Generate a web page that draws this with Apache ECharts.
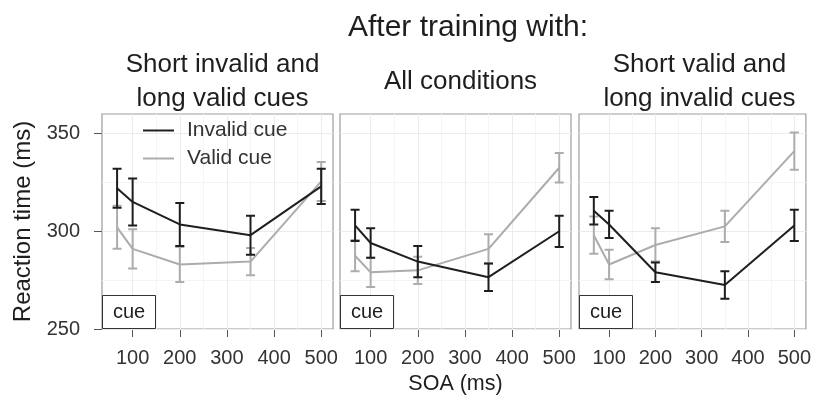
<!DOCTYPE html>
<html>
<head>
<meta charset="utf-8">
<script src="https://cdn.jsdelivr.net/npm/echarts@6/dist/echarts.min.js"></script>
<style>
  html, body { margin: 0; padding: 0; background: #fff; }
  #chart { width: 814px; height: 400px; }
</style>
</head>
<body>
<div id="chart"></div>
<script>
// SOA values (ms) shared by all panels
const soa = [67, 100, 200, 350, 500]

const panelTitles = ['Short invalid and\nlong valid cues', 'All conditions', 'Short valid and\nlong invalid cues']

// mean reaction times and half-width of the error bars, per panel
const invalid1 = [322, 315, 303.5, 298, 323]
const invalidErr1 = [10, 12, 11, 10, 9]
const valid1 = [302, 291, 283, 284.5, 325.5]
const validErr1 = [11, 10, 9, 7, 10]

const invalid2 = [303, 294, 284.5, 276.5, 300]
const invalidErr2 = [8, 7.5, 8, 7, 8]
const valid2 = [287.5, 279, 280, 291, 332.5]
const validErr2 = [8, 7.5, 7, 7.5, 7.5]

const invalid3 = [310.5, 303.5, 279, 272.5, 303]
const invalidErr3 = [7, 7, 5, 7, 8]
const valid3 = [298, 283, 293, 302.5, 341]
const validErr3 = [9.5, 7.5, 8.5, 8, 9.5]

const xTicks = [100, 200, 300, 400, 500]
const xMinor = [150, 250, 350, 450]
const yTicks = [250, 300, 350]
const yMinor = [275, 325]

const panels = [
  {inv: invalid1, invErr: invalidErr1, val: valid1, valErr: validErr1},
  {inv: invalid2, invErr: invalidErr2, val: valid2, valErr: validErr2},
  {inv: invalid3, invErr: invalidErr3, val: valid3, valErr: validErr3}
]

const FONT = 'Liberation Sans'
const BLACK = '#1e1e1e'
const GREY = '#acacac'
const gridLefts = [102, 340, 579]
const gridWidth = 231

const chart = echarts.init(document.getElementById('chart'))

function errorBars(xs, means, errs, color, idx) {
  return {
    type: 'custom',
    xAxisIndex: idx,
    yAxisIndex: idx,
    silent: true,
    z: color === BLACK ? 4 : 3,
    data: xs.map((x, i) => [x, means[i] - errs[i], means[i] + errs[i]]),
    renderItem(params, api) {
      const lo = api.coord([api.value(0), api.value(1)])
      const hi = api.coord([api.value(0), api.value(2)])
      const w = 4.5
      // one path: stem plus both caps
      return {
        type: 'polyline',
        shape: {points: [[hi[0] - w, hi[1]], [hi[0] + w, hi[1]], [hi[0], hi[1]], [lo[0], lo[1]], [lo[0] - w, lo[1]], [lo[0] + w, lo[1]]]},
        style: {stroke: color, lineWidth: 2, fill: null}
      }
    }
  }
}

const grids = [], xAxes = [], yAxes = [], series = []
const titles = [{
  text: 'After training with:', left: 463, top: 8, textAlign: 'center',
  textStyle: {fontFamily: FONT, fontSize: 30, fontWeight: 'normal', color: BLACK}
}]

panels.forEach((p, i) => {
  grids.push({
    left: gridLefts[i], top: 114, width: gridWidth, height: 215,
    show: true, borderColor: '#9c9c9c', borderWidth: 1.2, backgroundColor: '#fff'
  })
  xAxes.push({
    type: 'value', gridIndex: i, min: 35, max: 525,
    name: i === 1 ? 'SOA (ms)' : '', nameLocation: 'middle', nameGap: 44,
    nameTextStyle: {fontFamily: FONT, fontSize: 21.5, color: BLACK},
    axisLine: {show: false},
    axisTick: {show: true, length: 8, customValues: xTicks, lineStyle: {color: '#555'}},
    axisLabel: {customValues: xTicks, margin: 19, fontFamily: FONT, fontSize: 20, color: '#333'},
    splitLine: {show: false}
  })
  yAxes.push({
    type: 'value', gridIndex: i, min: 250, max: 360,
    name: i === 0 ? 'Reaction time (ms)' : '', nameLocation: 'middle', nameGap: 67,
    nameTextStyle: {fontFamily: FONT, fontSize: 24, color: BLACK},
    axisLine: {show: false},
    axisTick: {show: i === 0, length: 8, customValues: yTicks, lineStyle: {color: '#555'}},
    axisLabel: {show: i === 0, customValues: yTicks, margin: 22, fontFamily: FONT, fontSize: 20, color: '#333'},
    splitLine: {show: false}
  })

  const major = {color: '#ebebeb', width: 1, type: 'solid'}
  const minor = {color: '#f4f4f4', width: 1, type: 'solid'}
  series.push({
    type: 'line', xAxisIndex: i, yAxisIndex: i, data: [], silent: true, z: 1,
    markLine: {
      z: 1, silent: true, symbol: ['none', 'none'], label: {show: false}, animation: false,
      data: [].concat(
        xMinor.map(v => ({xAxis: v, lineStyle: minor})),
        yMinor.map(v => ({yAxis: v, lineStyle: minor})),
        xTicks.map(v => ({xAxis: v, lineStyle: major})),
        yTicks.map(v => ({yAxis: v, lineStyle: major}))
      )
    }
  })

  series.push({
    name: 'Valid cue', type: 'line', xAxisIndex: i, yAxisIndex: i, z: 3,
    data: soa.map((x, k) => [x, p.val[k]]), symbol: 'none',
    lineStyle: {color: GREY, width: 2}, itemStyle: {color: GREY}
  })
  series.push(errorBars(soa, p.val, p.valErr, GREY, i))
  series.push({
    name: 'Invalid cue', type: 'line', xAxisIndex: i, yAxisIndex: i, z: 4,
    data: soa.map((x, k) => [x, p.inv[k]]), symbol: 'none',
    lineStyle: {color: BLACK, width: 2}, itemStyle: {color: BLACK}
  })
  series.push(errorBars(soa, p.inv, p.invErr, BLACK, i))

  titles.push({
    text: panelTitles[i], left: gridLefts[i] + gridWidth / 2, top: i === 1 ? 60 : 43,
    textAlign: 'center',
    textStyle: {fontFamily: FONT, fontSize: 26, fontWeight: 'normal', color: BLACK, lineHeight: 34}
  })
  titles.push({
    text: 'cue', left: gridLefts[i], top: 295,
    borderWidth: 1, borderColor: '#333', backgroundColor: '#fff', padding: [7, 11, 7, 11],
    textStyle: {fontFamily: FONT, fontSize: 20, fontWeight: 'normal', color: BLACK}
  })
})

chart.setOption({
  animation: false,
  title: titles,
  legend: {
    data: ['Invalid cue', 'Valid cue'], orient: 'vertical', left: 143, top: 120, padding: 0,
    icon: 'rect', itemWidth: 31, itemHeight: 2, itemGap: 7, selectedMode: false,
    textStyle: {fontFamily: FONT, fontSize: 21, color: '#333', padding: [0, 0, 0, 8]}
  },
  grid: grids,
  xAxis: xAxes,
  yAxis: yAxes,
  series
})
</script>
</body>
</html>
